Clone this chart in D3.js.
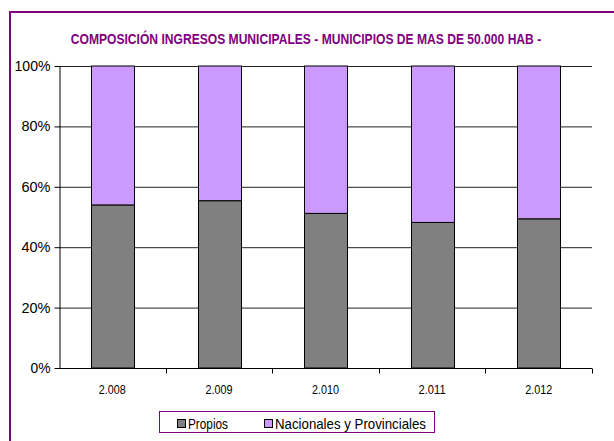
<!DOCTYPE html>
<html>
<head>
<meta charset="utf-8">
<script src="https://cdn.jsdelivr.net/npm/d3@7"></script>
<style>
  body { margin: 0; background: #fff; }
  text { font-family: "Liberation Sans Narrow", "Liberation Sans", sans-serif; }
</style>
</head>
<body>
<script>
// data
const years = ["2.008", "2.009", "2.010", "2.011", "2.012"]
const propios = [54.0, 55.4, 51.2, 48.2, 49.4]
const nacionales = propios.map(v => 100 - v)   // rest of the 100% stack
const seriesNames = ["Propios", "Nacionales y Provinciales"]
const seriesColors = ["#808080", "#cc99ff"]
const yTicks = [0, 20, 40, 60, 80, 100]

const width = 614, height = 441
const svg = d3.select("body").append("svg")
    .attr("width", width)
    .attr("height", height)

// outer frame (runs off the right and bottom edges)
svg.append("rect")
    .attr("x", 10).attr("y", 12)
    .attr("width", 620).attr("height", 450)
    .attr("fill", "none")
    .attr("stroke", "#800080")
    .attr("stroke-width", 2)

// title: squeeze horizontally with a transform so it fits like the condensed original
const titleG = svg.append("g")
const title = titleG.append("text")
    .attr("x", 0).attr("y", 0)
    .attr("text-anchor", "middle")
    .attr("fill", "#800080")
    .attr("font-weight", "bold")
    .attr("font-size", 15)
    .text("COMPOSICIÓN INGRESOS MUNICIPALES - MUNICIPIOS DE MAS DE 50.000 HAB -")
const natural = title.node().getComputedTextLength()
titleG.attr("transform", `translate(306,44) scale(${471 / natural},1)`)

const x = d3.scaleBand().domain(years).range([59, 592]).paddingInner(0.6).paddingOuter(0.3)
const y = d3.scaleLinear().domain([0, 100]).range([368, 66])

// gridlines
svg.append("g").selectAll("line")
    .data(yTicks.filter(t => t > 0))
    .enter().append("line")
    .attr("x1", 59).attr("x2", 592)
    .attr("y1", d => y(d) + 0.5).attr("y2", d => y(d) + 0.5)
    .attr("stroke", "#222")

const stack = years.map((yr, i) => ({ year: yr, vals: [propios[i], nacionales[i]] }))
const groups = svg.append("g").selectAll("g")
    .data(stack)
    .enter().append("g")
groups.each(function (d) {
    let base = 0
    d.vals.forEach((v, k) => {
        d3.select(this).append("rect")
            .attr("x", Math.round(x(d.year)) + 0.5)
            .attr("width", Math.round(x.bandwidth()))
            .attr("y", y(base + v))
            .attr("height", y(base) - y(base + v))
            .attr("fill", seriesColors[k])
            .attr("stroke", "#000")
            .attr("stroke-width", 1)
        base += v
    })
})

// y axis
const yAxis = svg.append("g")
    .attr("transform", "translate(59.5,0)")
    .call(d3.axisLeft(y).tickValues(yTicks).tickFormat(d => d + "%").tickSize(5).tickSizeOuter(0))
yAxis.select(".domain").attr("stroke", "#000")
yAxis.selectAll("text").attr("font-size", 14).attr("fill", "#000").attr("dx", "-1")
    .attr("textLength", d => d === 100 ? 36 : d === 0 ? 20 : 29)
    .attr("lengthAdjust", "spacingAndGlyphs")

// x axis with ticks at band edges
const xAxis = svg.append("g").attr("transform", "translate(0,368.5)")
xAxis.append("line").attr("x1", 59).attr("x2", 592).attr("stroke", "#000")
const step = x.step()
xAxis.selectAll(".tk")
    .data(years)
    .enter().append("line")
    .attr("x1", (d, i) => Math.round(59 + step * (i + 1)) + 0.5)
    .attr("x2", (d, i) => Math.round(59 + step * (i + 1)) + 0.5)
    .attr("y1", 0).attr("y2", 5)
    .attr("stroke", "#000")
xAxis.selectAll("text")
    .data(years)
    .enter().append("text")
    .attr("x", d => x(d) + x.bandwidth() / 2)
    .attr("y", 25)
    .attr("text-anchor", "middle")
    .attr("font-size", 13)
    .attr("textLength", 27)
    .attr("lengthAdjust", "spacingAndGlyphs")
    .text(d => d)

// legend
const legend = svg.append("g")
legend.append("rect")
    .attr("x", 159.5).attr("y", 411.5)
    .attr("width", 275).attr("height", 21)
    .attr("fill", "#fff")
    .attr("stroke", "#800080")
const legX = [177, 264]
const legLen = [40, 151]
seriesNames.forEach((name, k) => {
    legend.append("rect")
        .attr("x", legX[k] + 0.5).attr("y", 419.5)
        .attr("width", 8).attr("height", 8)
        .attr("fill", seriesColors[k])
        .attr("stroke", "#000")
    legend.append("text")
        .attr("x", legX[k] + 11).attr("y", 429)
        .attr("font-size", 15)
        .attr("textLength", legLen[k])
        .attr("lengthAdjust", "spacingAndGlyphs")
        .text(name)
})
</script>
</body>
</html>
